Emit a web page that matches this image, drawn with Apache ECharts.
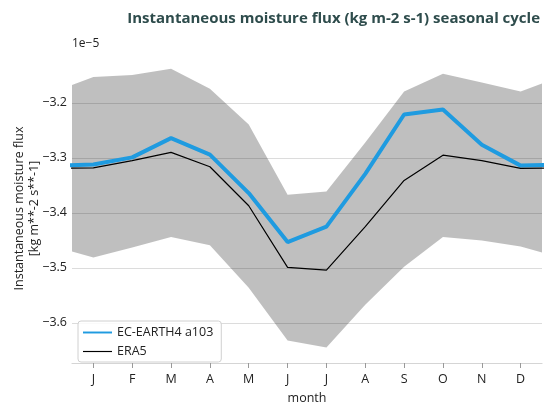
<!DOCTYPE html>
<html>
<head>
<meta charset="utf-8">
<script src="https://cdn.jsdelivr.net/npm/echarts@6/dist/echarts.min.js"></script>
<style>
  html, body { margin: 0; padding: 0; background: #fff; }
  #chart { width: 556px; height: 403px; }
</style>
</head>
<body>
<div id="chart"></div>
<script>
// monthly values, units of 1e-5 kg m-2 s-1
var months = ['J', 'F', 'M', 'A', 'M', 'J', 'J', 'A', 'S', 'O', 'N', 'D'];
var ecEarth = [-3.312, -3.299, -3.264, -3.294, -3.364, -3.453, -3.425, -3.329, -3.221, -3.212, -3.276, -3.314];
var era5 = [-3.318, -3.305, -3.290, -3.316, -3.387, -3.499, -3.504, -3.425, -3.341, -3.295, -3.305, -3.319];
var bandLow = [-3.481, -3.463, -3.444, -3.459, -3.536, -3.632, -3.645, -3.567, -3.498, -3.444, -3.450, -3.461];
var bandHigh = [-3.153, -3.149, -3.138, -3.174, -3.239, -3.367, -3.361, -3.272, -3.179, -3.147, -3.163, -3.179];
var yTicks = [-3.6, -3.5, -3.4, -3.3, -3.2];

var font = 'Open Sans';

// cyclic: add December before January and January after December
function wrap(arr) {
  var out = [[-1, arr[11]]];
  for (var i = 0; i < 12; i++) out.push([i, arr[i]]);
  out.push([12, arr[0]]);
  return out;
}

var lowW = wrap(bandLow);
var highW = wrap(bandHigh);

var myChart = echarts.init(document.getElementById('chart'));
myChart.setOption({
  animation: false,
  title: {
    text: 'Instantaneous moisture flux (kg m-2 s-1) seasonal cycle',
    right: 11,
    top: 6,
    textStyle: { fontFamily: font, fontWeight: 'bold', fontSize: 15, color: '#2e4c4c' }
  },
  graphic: [{
    type: 'text', left: 72, top: 38,
    style: { text: '1e\u22125', font: '12px "Open Sans"', fill: '#222' }
  }],
  legend: {
    left: 78, top: 321,
    orient: 'vertical',
    itemWidth: 29, itemHeight: 10, itemGap: 6,
    padding: [5, 8, 4, 5],
    backgroundColor: 'rgba(255,255,255,0.85)',
    borderColor: '#d0d0d0', borderWidth: 1, borderRadius: 3,
    textStyle: { fontFamily: font, fontSize: 12.5, color: '#222' },
    data: [
      { name: 'EC-EARTH4 a103', icon: 'path://M0,4 L30,4 L30,6 L0,6 Z' },
      { name: 'ERA5', icon: 'path://M0,4.4 L30,4.4 L30,5.6 L0,5.6 Z' }
    ]
  },
  grid: { left: 72, right: 14, top: 54, bottom: 40, outerBoundsMode: 'none' },
  xAxis: {
    type: 'value',
    min: -0.55, max: 11.55,
    name: 'month', nameLocation: 'middle', nameGap: 29,
    nameTextStyle: { fontFamily: font, fontSize: 12.5, color: '#222' },
    axisLine: { show: true, lineStyle: { color: '#d5d5d5', width: 1.2 } },
    axisTick: { show: true, length: 5, lineStyle: { color: '#999' },
      customValues: [0, 1, 2, 3, 4, 5, 6, 7, 8, 9, 10, 11] },
    axisLabel: {
      customValues: [0, 1, 2, 3, 4, 5, 6, 7, 8, 9, 10, 11],
      formatter: function (v) { return months[Math.round(v)]; },
      fontFamily: font, fontSize: 12.5, color: '#222', margin: 10
    },
    splitLine: { show: false }
  },
  yAxis: {
    type: 'value',
    min: -3.673, max: -3.111,
    name: 'Instantaneous moisture flux\n[kg m**-2 s**-1]',
    nameLocation: 'middle', nameGap: 30, nameRotate: 90, nameMoveOverlap: false,
    nameTextStyle: { fontFamily: font, fontSize: 12.5, color: '#222', lineHeight: 15 },
    axisLine: { show: false },
    axisTick: { show: false, customValues: yTicks },
    axisLabel: {
      customValues: yTicks,
      formatter: function (v) { return v.toFixed(1).replace('-', '\u2212'); },
      fontFamily: font, fontSize: 12.5, color: '#222', margin: 5
    },
    splitLine: { show: true, lineStyle: { color: '#dcdcdc', width: 1.2 } }
  },
  series: [
    {
      name: 'band',
      type: 'custom',
      clip: true,
      silent: true,
      data: [0],
      renderItem: function (params, api) {
        var pts = [];
        for (var i = 0; i < highW.length; i++) pts.push(api.coord(highW[i]));
        for (var j = lowW.length - 1; j >= 0; j--) pts.push(api.coord(lowW[j]));
        return { type: 'polygon', shape: { points: pts }, style: { fill: 'rgba(0,0,0,0.25)' } };
      },
      z: 1
    },
    {
      name: 'EC-EARTH4 a103',
      type: 'line',
      data: wrap(ecEarth),
      showSymbol: false,
      lineStyle: { color: '#1f9be0', width: 4 },
      itemStyle: { color: '#1f9be0' },
      z: 3
    },
    {
      name: 'ERA5',
      type: 'line',
      data: wrap(era5),
      showSymbol: false,
      lineStyle: { color: '#000', width: 1.2 },
      itemStyle: { color: '#000' },
      z: 4
    }
  ]
});
</script>
</body>
</html>
